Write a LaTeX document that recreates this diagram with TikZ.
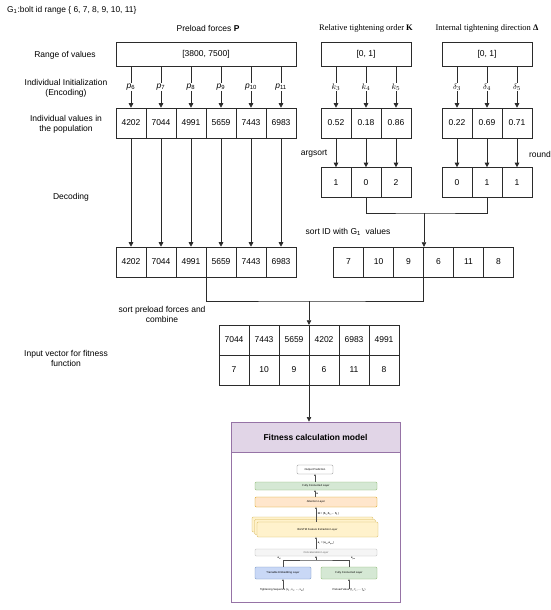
\documentclass[tikz,border=0pt]{standalone}
\usepackage{fontspec}
\setmainfont{Liberation Sans}
\newfontfamily\serifff{Liberation Serif}
\usetikzlibrary{arrows.meta,calc}
\definecolor{ln}{HTML}{2B2B2B}
\definecolor{fitc}{HTML}{9673A6}
\definecolor{fithd}{HTML}{E1D5E7}
\definecolor{grn}{HTML}{D5E8D4}
\definecolor{grnd}{HTML}{82B366}
\definecolor{org}{HTML}{FFE6CC}
\definecolor{orgd}{HTML}{D79B00}
\definecolor{yel}{HTML}{FFF2CC}
\definecolor{yeld}{HTML}{D6B656}
\definecolor{blu}{HTML}{C9D8F6}
\definecolor{blud}{HTML}{6C8EBF}
\definecolor{gry}{HTML}{F5F5F5}
\definecolor{gryd}{HTML}{BBBBBB}
\newcommand\mainfs{\fontsize{8.5}{10}\selectfont}
\newcommand\tinyfs{\fontsize{2.7}{3.2}\selectfont}
\tikzset{
  lbl/.style={font=\mainfs, align=center, inner sep=0pt},
  cell/.style={draw=ln, line width=0.6pt, minimum width=30pt, minimum height=30pt, inner sep=0pt, font=\mainfs},
  rangebox/.style={draw=ln, line width=0.6pt, minimum height=24pt, inner sep=0pt, font=\mainfs},
  arr/.style={draw=ln, line width=0.6pt, -{Triangle[width=4.5pt,length=4.5pt]}},
  conn/.style={draw=ln, line width=0.6pt},
  plbl/.style={fill=white, inner sep=1pt, font=\mainfs},
  ly/.style={rounded corners=1.2pt, line width=0.4pt, inner sep=0pt, font=\tinyfs},
  tarr/.style={draw=black!70, line width=0.35pt, -{Triangle[width=1.6pt,length=1.6pt]}},
  tconn/.style={draw=black!70, line width=0.35pt},
  tlbl/.style={font=\tinyfs, inner sep=0.3pt},
}
\begin{document}
\begin{tikzpicture}[x=1pt,y=-1pt]
\useasboundingbox (0,0) rectangle (550,610);

% title and headers
\node[lbl, anchor=west, font=\fontsize{8.4}{10}\selectfont] (title) at (7,10) {G\textsubscript{1}:bolt id range \{ 6, 7, 8, 9, 10, 11\}};
\node[lbl] (hp) at (208,28) {Preload forces \textbf{P}};
\node[lbl, font=\mainfs\serifff] (hk) at (366,28) {Relative tightening order \textbf{K}};
\node[lbl, font=\mainfs\serifff] (hd) at (487,28) {Internal tightening direction \textbf{Δ}};

% left labels
\node[lbl] (l1) at (65,55) {Range of values};
\node[lbl] (l2) at (66,88) {Individual Initialization\\(Encoding)};
\node[lbl] (l3) at (66,124) {Individual values in\\the population};
\node[lbl] (l4) at (71,197) {Decoding};
\node[lbl] (l5) at (162,314) {sort preload forces and\\combine};
\node[lbl] (l6) at (66,358) {Input vector for fitness\\function};

% range boxes
\node[rangebox, minimum width=180pt] (prange) at (206,54) {[3800, 7500]};
\node[rangebox, minimum width=90pt] (krange) at (366,54) {[0, 1]};
\node[rangebox, minimum width=90pt] (drange) at (487,54) {[0, 1]};

% preload values
\foreach \v [count=\i] in {4202,7044,4991,5659,7443,6983} {
  \node[cell] (pv\i) at ({131+30*(\i-1)},123) {\v};
  \node[cell] (pd\i) at ({131+30*(\i-1)},262) {\v};
}
\foreach \n [count=\i] in {6,7,8,9,10,11} {
  \draw[arr] (prange.south -| pv\i.north) -- node[plbl] {\textit{p}\textsubscript{\n}} (pv\i.north);
  \draw[arr] (pv\i.south) -- (pd\i.north);
}
\node[minimum width=180pt, minimum height=30pt, inner sep=0pt] (prow2) at (206,262) {};

% K values
\foreach \v/\w [count=\i] in {0.52/1,0.18/0,0.86/2} {
  \node[cell] (kv\i) at ({336+30*(\i-1)},123) {\v};
  \node[cell] (kd\i) at ({336+30*(\i-1)},182.5) {\w};
  \draw[arr] (kv\i.south) -- (kd\i.north);
}
\foreach \n [count=\i] in {3,4,5} {
  \draw[arr] (krange.south -| kv\i.north) -- node[plbl] {$k_{\n}$} (kv\i.north);
}
% Delta values
\foreach \v/\w [count=\i] in {0.22/0,0.69/1,0.71/1} {
  \node[cell] (dv\i) at ({457+30*(\i-1)},123) {\v};
  \node[cell] (dd\i) at ({457+30*(\i-1)},182.5) {\w};
  \draw[arr] (dv\i.south) -- (dd\i.north);
}
\foreach \n [count=\i] in {3,4,5} {
  \draw[arr] (drange.south -| dv\i.north) -- node[plbl] {$\delta_{\n}$} (dv\i.north);
}
\node[lbl] (argsort) at (314,154) {argsort};
\node[lbl] (round) at (540,154) {round};

% ID row
\foreach \v [count=\i] in {7,10,9,6,11,8} {
  \node[cell] (id\i) at ({348.5+30*(\i-1)},262) {\v};
}
\node[minimum width=180pt, minimum height=30pt, inner sep=0pt] (idrow) at (423.5,262) {};
\node[lbl] (sortid) at (348,232) {sort ID with G\textsubscript{1}\ \ values};

\coordinate (kj) at (424,213);
\draw[conn] (kd2.south) |- (kj) -| (dd2.south);
\draw[arr] (kj) -- (kj |- idrow.north);

% combined table
\foreach \v/\w [count=\i] in {7044/7,7443/10,5659/9,4202/6,6983/11,4991/8} {
  \node[cell] (cv\i) at ({234+30*(\i-1)},340) {\v};
  \node[cell] (ci\i) at ({234+30*(\i-1)},370) {\w};
}
\node[minimum width=180pt, minimum height=60pt, inner sep=0pt] (comb) at (309,355) {};

\coordinate (jn) at (309,301);
\draw[conn] (prow2.south) |- (jn) -| (idrow.south);
\draw[arr] (jn) -- (comb.north);

% fitness model
\node[draw=fitc, line width=0.9pt, fill=white, minimum width=169pt, minimum height=180pt, inner sep=0pt] (fit) at (315.5,512) {};
\node[draw=fitc, line width=0.9pt, fill=fithd, minimum width=169pt, minimum height=30pt, inner sep=0pt, font=\mainfs\bfseries] (fithead) at (315.5,437) {Fitness calculation model};
\draw[arr] (comb.south) -- (comb.south |- fithead.north);

% inset
\node[ly, draw=black!45, fill=white, minimum width=36pt, minimum height=9pt] (outp) at (315,469.5) {Output Prediction};
\node[ly, draw=grnd, fill=grn, minimum width=122pt, minimum height=8pt] (fc1) at (316,486) {Fully Connected Layer};
\node[ly, draw=orgd, fill=org, minimum width=122pt, minimum height=10pt] (att) at (316,502) {Attention Layer};
\node[ly, draw=yeld, fill=yel, minimum width=121pt, minimum height=15pt] (bl1) at (312.5,524.5) {};
\node[ly, draw=yeld, fill=yel, minimum width=121pt, minimum height=15pt] (bl2) at (315,527) {};
\node[ly, draw=yeld, fill=yel, minimum width=121pt, minimum height=15pt] (bl3) at (317.5,529.5) {BiLSTM Feature Extraction Layer};
\node[ly, draw=gryd, fill=gry, text=black!60, minimum width=122pt, minimum height=7pt] (concat) at (316,552.5) {Concatenation Layer};
\node[ly, draw=blud, fill=blu, minimum width=56pt, minimum height=12pt] (emb) at (283,573) {Trainable Embedding Layer};
\node[ly, draw=grnd, fill=grn, minimum width=56pt, minimum height=12pt] (fc2) at (349,573) {Fully Connected Layer};

\draw[tarr] (fc1.north -| outp.south) -- (outp.south);
\draw[tarr] (att.north -| outp.south) -- node[tlbl, anchor=west, xshift=1pt] {\textbf{a}} (fc1.south -| outp.south);
\draw[tarr] (bl3.north -| 316,0) -- node[tlbl, anchor=west, xshift=1.5pt] {\textbf{H} = (\textbf{h}\textsubscript{1},\textbf{h}\textsubscript{2},... \textbf{h}\textsubscript{L})} (att.south -| 316,0);
\draw[tarr] (concat.north -| 316,0) -- node[tlbl, anchor=west, xshift=1.5pt] {\textbf{e}\textsubscript{i} = (\textbf{e}\textsubscript{id},\textbf{e}\textsubscript{pre})} (bl3.south -| 316,0);

\coordinate (bj) at (316,560);
\draw[tconn] (emb.north) |- (bj) -| (fc2.north);
\draw[tarr] (bj) -- (concat.south -| bj);
\node[tlbl, anchor=east] (eid) at (281.5,558.5) {\textbf{e}\textsubscript{id}};
\node[tlbl, anchor=west] (epre) at (350.5,558.5) {\textbf{e}\textsubscript{pre}};

\node[tlbl] (in1) at (282,590.5) {Tightening Sequence (s\textsubscript{1}, s\textsubscript{2}, ..., s\textsubscript{M})};
\node[tlbl] (in2) at (349,590.5) {Preload Value (f\textsubscript{1}, f\textsubscript{2}, ... f\textsubscript{M})};
\draw[tarr] (in1.north -| emb.south) -- (emb.south);
\draw[tarr] (in2.north -| fc2.south) -- (fc2.south);
\end{tikzpicture}
\end{document}
